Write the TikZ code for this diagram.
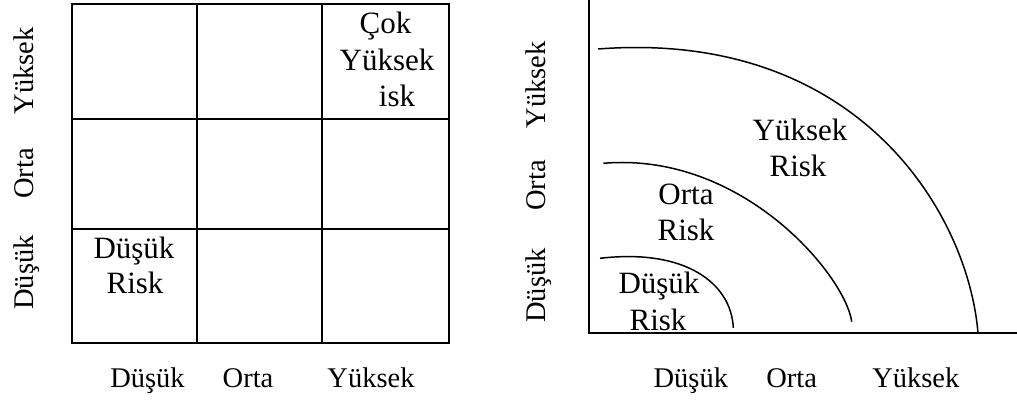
\documentclass[tikz,border=0pt]{standalone}
\usepackage{fontspec}
\setmainfont{Liberation Serif}
\begin{document}
\begin{tikzpicture}[x=1pt,y=-1pt,
  lbl/.style={font=\fontsize{28.5}{34}\selectfont, inner sep=0pt, anchor=base},
  vlbl/.style={lbl, rotate=90},
  txt/.style={font=\fontsize{31}{36}\selectfont, inner sep=0pt, anchor=base},
  gridline/.style={line width=2pt, line join=miter},
  axisline/.style={line width=1.6pt},
  arcline/.style={line width=1.5pt}]
\useasboundingbox (0,0) rectangle (1017,399);
% ---------- left matrix ----------
\draw[gridline] (72,4) rectangle (449,343);
\draw[gridline] (197,4) -- (197,343);
\draw[gridline] (322,4) -- (322,343);
\draw[gridline] (72,119) -- (449,119);
\draw[gridline] (72,229) -- (449,229);
\node[vlbl] (lyh) at (33,71) {Yüksek};
\node[vlbl] (lyo) at (33,173.5) {Orta};
\node[vlbl] (lyd) at (33,272.5) {Düşük};
\node[lbl] (lxd) at (147.5,387) {Düşük};
\node[lbl] (lxo) at (248,387) {Orta};
\node[lbl] (lxy) at (371,387) {Yüksek};
\node[txt] (dr1) at (134,258.3) {Düşük};
\node[txt] (dr2) at (135,293.3) {Risk};
\node[txt] (cy1) at (385.5,33.3) {Çok};
\node[txt] (cy2) at (387,70) {Yüksek};
\node[txt] (cy3) at (397,106) {isk};
% ---------- right chart ----------
\draw[axisline] (589,0) -- (589,333) -- (1017,333);
\draw[arcline] (598,49) .. controls (858,29) and (968,213) .. (978,333);
\draw[arcline] (603.3,163.3) .. controls (743.3,151.3) and (845.7,276.7) .. (851.7,321.7);
\draw[arcline] (600,258.3) .. controls (685,248.3) and (731.3,283) .. (733.3,328);
\node[vlbl] (ryh) at (545,85) {Yüksek};
\node[vlbl] (ryo) at (545,185.5) {Orta};
\node[vlbl] (ryd) at (545,285.5) {Düşük};
\node[lbl] (rxd) at (690.8,387) {Düşük};
\node[lbl] (rxo) at (791.7,387) {Orta};
\node[lbl] (rxy) at (915.8,387) {Yüksek};
\node[txt] (yr1) at (800,140) {Yüksek};
\node[txt] (yr2) at (798,176.7) {Risk};
\node[txt] (or1) at (686,204) {Orta};
\node[txt] (or2) at (686,240.7) {Risk};
\node[txt] (ds1) at (659,293) {Düşük};
\node[txt] (ds2) at (658,330) {Risk};
\end{tikzpicture}
\end{document}
